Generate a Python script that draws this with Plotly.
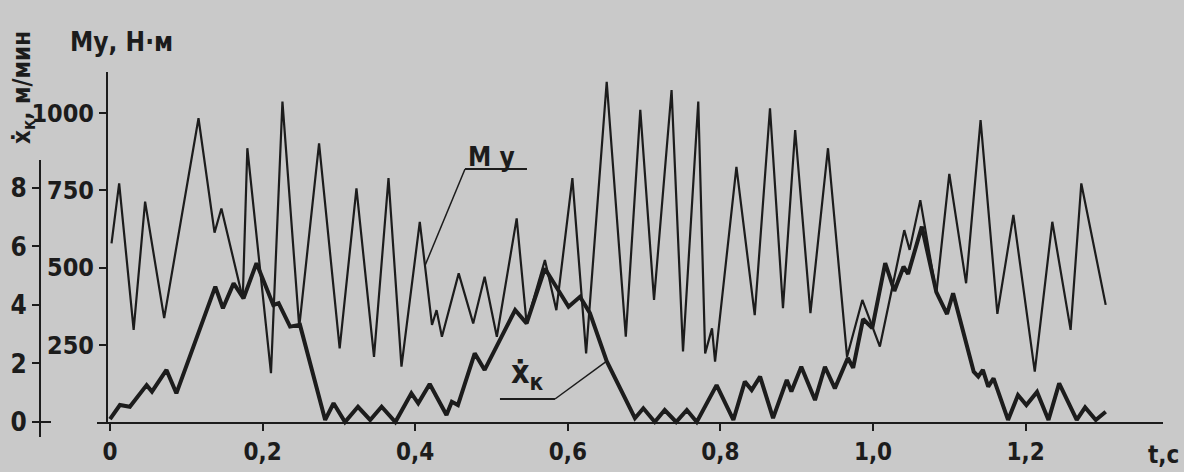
import plotly.graph_objects as go

# ---- data ----
t_m = [0.002, 0.012, 0.031, 0.046, 0.071, 0.116, 0.137, 0.146, 0.174, 0.180, 0.211, 0.226,
       0.248, 0.274, 0.301, 0.323, 0.346, 0.365, 0.382, 0.406, 0.422, 0.428, 0.435, 0.457,
       0.476, 0.491, 0.507, 0.533, 0.546, 0.570, 0.585, 0.606, 0.624, 0.651, 0.676, 0.695,
       0.713, 0.736, 0.751, 0.771, 0.780, 0.789, 0.793, 0.821, 0.845, 0.865, 0.882, 0.898,
       0.918, 0.941, 0.966, 0.986, 1.009, 1.041, 1.048, 1.062, 1.083, 1.100, 1.122, 1.141,
       1.163, 1.184, 1.212, 1.235, 1.259, 1.273, 1.305]
m_vals = [578, 772, 298, 713, 336, 983, 613, 691, 400, 886, 158, 1037,
          308, 902, 238, 756, 211, 789, 179, 648, 314, 362, 276, 481,
          319, 470, 276, 659, 319, 524, 362, 789, 222, 1101, 276, 1010,
          395, 1074, 228, 1037, 222, 303, 195, 826, 346, 1015, 368, 945,
          352, 886, 211, 395, 244, 621, 557, 718, 416, 803, 449, 977,
          350, 670, 163, 648, 298, 772, 379]

t_x = [0.0, 0.013, 0.026, 0.048, 0.055, 0.074, 0.087, 0.138, 0.148, 0.162, 0.175, 0.192,
       0.214, 0.221, 0.236, 0.249, 0.282, 0.293, 0.308, 0.325, 0.341, 0.356, 0.374, 0.395,
       0.404, 0.419, 0.441, 0.448, 0.456, 0.478, 0.491, 0.531, 0.546, 0.570, 0.601, 0.616,
       0.629, 0.651, 0.688, 0.699, 0.714, 0.727, 0.742, 0.756, 0.769, 0.795, 0.817, 0.832,
       0.841, 0.852, 0.869, 0.887, 0.893, 0.906, 0.924, 0.937, 0.950, 0.967, 0.974, 0.987,
       0.999, 1.016, 1.028, 1.040, 1.046, 1.064, 1.083, 1.097, 1.105, 1.132, 1.138, 1.144,
       1.151, 1.158, 1.177, 1.190, 1.201, 1.215, 1.230, 1.244, 1.267, 1.278, 1.292, 1.305]
x_vals = [0.1, 0.58, 0.52, 1.26, 1.04, 1.78, 0.98, 4.63, 3.89, 4.74, 4.23, 5.43,
          4.0, 4.06, 3.26, 3.32, 0.07, 0.64, 0.0, 0.52, 0.07, 0.52, 0.0, 0.98,
          0.64, 1.3, 0.24, 0.69, 0.58, 2.35, 1.78, 3.83, 3.37, 5.25, 3.94, 4.28,
          3.72, 2.08, 0.13, 0.47, 0.0, 0.41, 0.0, 0.41, 0.0, 1.26, 0.07, 1.38,
          1.09, 1.55, 0.13, 1.44, 1.04, 1.89, 0.75, 1.89, 1.15, 2.19, 1.85, 3.52,
          3.21, 5.43, 4.48, 5.31, 5.06, 6.68, 4.44, 3.69, 4.4, 1.72, 1.55, 1.78,
          1.21, 1.49, 0.07, 0.92, 0.58, 1.03, 0.07, 1.32, 0.07, 0.5, 0.07, 0.35]

t_ticks = [0, 0.2, 0.4, 0.6, 0.8, 1.0, 1.2]
t_ticktext = ["0", "0,2", "0,4", "0,6", "0,8", "1,0", "1,2"]
m_ticks = [250, 500, 750, 1000]
x_ticks = [0, 2, 4, 6, 8]

W, H = 1184, 472
BG = "#c9c9c9"
INK = "#1c1c1c"
NARROW = "Liberation Sans Narrow, DejaVu Sans Condensed, sans-serif"
COND = "DejaVu Sans Condensed, sans-serif"


def px_x(p):
    return p / W


def px_y(p):
    return 1 - p / H


fig = go.Figure()
fig.add_trace(go.Scatter(x=t_m, y=m_vals, mode="lines", xaxis="x", yaxis="y",
                         line=dict(color=INK, width=2.2), showlegend=False, hoverinfo="skip"))
fig.add_trace(go.Scatter(x=t_x, y=x_vals, mode="lines", xaxis="x", yaxis="y2",
                         line=dict(color=INK, width=4), showlegend=False, hoverinfo="skip"))

fig.update_layout(
    width=W, height=H,
    margin=dict(l=0, r=0, t=0, b=0),
    paper_bgcolor=BG, plot_bgcolor="rgba(0,0,0,0)",
    xaxis=dict(domain=[px_x(97), px_x(1163)], range=[-0.01704, 1.38008],
               anchor="y",
               showline=True, linecolor=INK, linewidth=2,
               showgrid=False, zeroline=False,
               ticks="outside", ticklen=7, tickwidth=2, tickcolor=INK,
               tickvals=t_ticks, ticktext=t_ticktext,
               tickfont=dict(family=COND, size=24, color=INK, weight="bold")),
    yaxis=dict(domain=[px_y(422), px_y(72)], range=[0, 1132.7],
               anchor="free", position=px_x(107),
               showline=True, linecolor=INK, linewidth=2,
               showgrid=False, zeroline=False,
               ticks="outside", ticklen=7, tickwidth=2, tickcolor=INK,
               tickvals=m_ticks,
               tickfont=dict(family=NARROW, size=25, color=INK, weight="bold")),
    yaxis2=dict(domain=[px_y(437), px_y(160)], range=[-0.513, 8.957],
                anchor="free", position=px_x(40),
                showline=True, linecolor=INK, linewidth=2,
                showgrid=False, zeroline=False,
                ticks="outside", ticklen=7, tickwidth=2, tickcolor=INK,
                tickvals=x_ticks,
                tickfont=dict(family=NARROW, size=26, color=INK, weight="bold")),
)

# tick cross at zero on the x-dot axis
fig.add_shape(type="line", xref="paper", yref="y2", x0=px_x(40), x1=px_x(51), y0=0, y1=0,
              line=dict(color=INK, width=2))

# leader lines and underlines for the curve labels
fig.add_shape(type="line", xref="x", yref="y", x0=0.4653, x1=0.5465, y0=819, y1=819,
              line=dict(color=INK, width=2))
fig.add_shape(type="line", xref="x", yref="y", x0=0.4653, x1=0.4128, y0=819, y1=506,
              line=dict(color=INK, width=1.5))
fig.add_shape(type="line", xref="x", yref="y2", x0=0.5111, x1=0.5832, y0=0.786, y1=0.786,
              line=dict(color=INK, width=2))
fig.add_shape(type="line", xref="x", yref="y2", x0=0.5832, x1=0.651, y0=0.786, y1=2.08,
              line=dict(color=INK, width=1.5))

ann_font = dict(family=COND, color=INK, weight="bold")
fig.add_annotation(xref="paper", yref="paper", x=px_x(68), y=px_y(42), xanchor="left",
                   yanchor="middle", showarrow=False,
                   text="Му, Н·м", font=dict(size=26, **ann_font))
fig.add_annotation(xref="paper", yref="paper", x=px_x(24), y=px_y(88), xanchor="center",
                   yanchor="middle", showarrow=False, textangle=-90,
                   text="ẋ<sub>к</sub>, м/мин", font=dict(size=24, **ann_font))
fig.add_annotation(xref="paper", yref="paper", x=px_x(492), y=px_y(157), xanchor="center",
                   yanchor="middle", showarrow=False,
                   text="М у", font=dict(size=26, **ann_font))
fig.add_annotation(xref="paper", yref="paper", x=px_x(527), y=px_y(374), xanchor="center",
                   yanchor="middle", showarrow=False,
                   text="ẋ<sub>к</sub>", font=dict(size=32, **ann_font))
fig.add_annotation(xref="paper", yref="paper", x=px_x(1181), y=px_y(455), xanchor="right",
                   yanchor="middle", showarrow=False,
                   text="t,c", font=dict(size=24, **ann_font))

fig.write_html("out.html",
               config={"displayModeBar": False},
               post_script="document.body.style.margin='0';"
                           "document.body.style.background='#c9c9c9';")
